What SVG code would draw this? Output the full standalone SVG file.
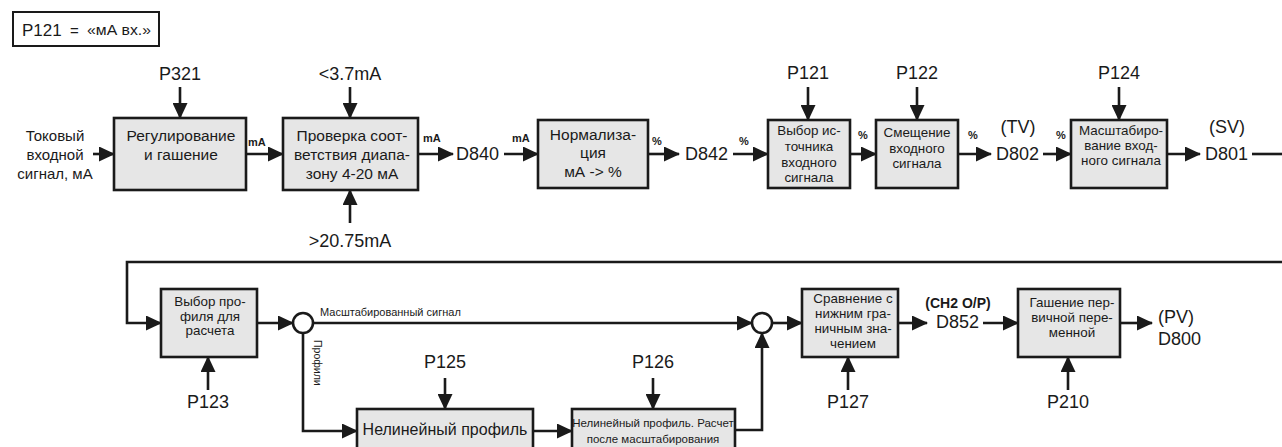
<svg xmlns="http://www.w3.org/2000/svg" width="1282" height="447" viewBox="0 0 1282 447">
<style>
text{font-family:"Liberation Sans",Arial,sans-serif;fill:#1a1a1a}
.box{fill:#e6e6e6;stroke:#1a1a1a;stroke-width:2.6}
.hdr{fill:#fff;stroke:#1a1a1a;stroke-width:2}
.ln{fill:none;stroke:#1a1a1a;stroke-width:2.6}
.arr{marker-end:url(#ah)}
.cir{fill:#fff;stroke:#1a1a1a;stroke-width:2.6}
.big{font-size:18px}
.t15{font-size:15.5px;text-anchor:middle}
.t13{font-size:13.4px;text-anchor:middle}
.lab{font-size:11px;font-weight:bold}
.c{text-anchor:middle}
</style>
<defs>
<marker id="ah" markerUnits="userSpaceOnUse" markerWidth="16" markerHeight="15" refX="15" refY="7.5" orient="auto">
<path d="M0,0 L16,7.5 L0,15 Z" fill="#1a1a1a"/>
</marker>
</defs>

<g id="header">
<rect class="hdr" x="13" y="12" width="146" height="34"/>
<text x="22" y="36" font-size="17">P121</text>
<text x="70" y="36" font-size="15">=</text>
<text x="87" y="35" font-size="14" textLength="64" lengthAdjust="spacingAndGlyphs">«мА вх.»</text>
</g>

<g id="connectors">
<line class="ln arr" x1="93" y1="154" x2="114" y2="154"/>
<line class="ln arr" x1="180" y1="87" x2="180" y2="118"/>
<line class="ln arr" x1="246" y1="154" x2="283" y2="154"/>
<line class="ln arr" x1="350" y1="87" x2="350" y2="118"/>
<line class="ln arr" x1="350" y1="223" x2="350" y2="190"/>
<line class="ln arr" x1="418" y1="154" x2="453" y2="154"/>
<line class="ln arr" x1="504" y1="154" x2="538" y2="154"/>
<line class="ln arr" x1="648" y1="154" x2="679" y2="154"/>
<line class="ln arr" x1="733" y1="154" x2="768" y2="154"/>
<line class="ln arr" x1="808" y1="87" x2="808" y2="120"/>
<line class="ln arr" x1="850" y1="154" x2="876" y2="154"/>
<line class="ln arr" x1="917" y1="87" x2="917" y2="120"/>
<line class="ln arr" x1="958" y1="154" x2="991" y2="154"/>
<line class="ln arr" x1="1043" y1="154" x2="1071" y2="154"/>
<line class="ln arr" x1="1119" y1="87" x2="1119" y2="120"/>
<line class="ln arr" x1="1167" y1="154" x2="1200" y2="154"/>
<line class="ln" x1="1252" y1="154" x2="1282" y2="154"/>
<polyline class="ln arr" points="1282,262 127,262 127,323 161,323"/>
<line class="ln arr" x1="208" y1="390" x2="208" y2="357"/>
<line class="ln arr" x1="257" y1="323" x2="293" y2="323"/>
<line class="ln arr" x1="313" y1="323" x2="752" y2="323"/>
<polyline class="ln arr" points="303,333 303,431 357,431"/>
<line class="ln arr" x1="445" y1="378" x2="445" y2="409"/>
<line class="ln arr" x1="533" y1="431" x2="572" y2="431"/>
<line class="ln arr" x1="653" y1="378" x2="653" y2="409"/>
<polyline class="ln arr" points="735,430 762,430 762,333"/>
<line class="ln arr" x1="772" y1="323" x2="802" y2="323"/>
<line class="ln arr" x1="848" y1="390" x2="848" y2="357"/>
<line class="ln arr" x1="898" y1="323" x2="927" y2="323"/>
<line class="ln arr" x1="983" y1="323" x2="1018" y2="323"/>
<line class="ln arr" x1="1068" y1="390" x2="1068" y2="357"/>
<line class="ln arr" x1="1120" y1="323" x2="1152" y2="323"/>
<circle class="cir" cx="303" cy="323" r="10"/>
<circle class="cir" cx="762" cy="323" r="10"/>
</g>

<g id="labels">
<text class="c" x="55" y="141" font-size="15">Токовый</text>
<text class="c" x="55" y="160" font-size="15">входной</text>
<text class="c" x="55" y="179" font-size="15">сигнал, мА</text>
<text class="big c" x="180" y="80">P321</text>
<text class="big c" x="350" y="80">&lt;3.7mA</text>
<text class="big c" x="350" y="247">&gt;20.75mA</text>
<text class="lab" x="248" y="146">mA</text>
<text class="lab" x="423" y="142">mA</text>
<text class="big" x="456" y="160">D840</text>
<text class="lab" x="512" y="142">mA</text>
<text class="lab" x="652" y="145">%</text>
<text class="big" x="685" y="160">D842</text>
<text class="lab" x="739" y="145">%</text>
<text class="big c" x="808" y="79">P121</text>
<text class="lab" x="858" y="139">%</text>
<text class="big c" x="917" y="79">P122</text>
<text class="lab" x="968" y="139">%</text>
<text class="big c" x="1018" y="133">(TV)</text>
<text class="big" x="996" y="160">D802</text>
<text class="lab" x="1056" y="139">%</text>
<text class="big c" x="1119" y="79">P124</text>
<text class="big c" x="1227" y="133">(SV)</text>
<text class="big" x="1205" y="160">D801</text>
<text class="big c" x="208" y="408">P123</text>
<text x="320" y="316" font-size="11">Масштабированный сигнал</text>
<text transform="translate(314,340) rotate(90)" font-size="10.5">Профили</text>
<text class="big c" x="445" y="368">P125</text>
<text class="big c" x="653" y="368">P126</text>
<text class="big c" x="848" y="408">P127</text>
<text class="c" x="958" y="308" font-size="14" font-weight="bold">(CH2 O/P)</text>
<text class="big" x="936" y="328">D852</text>
<text class="big c" x="1068" y="408">P210</text>
<text class="big" x="1158" y="323">(PV)</text>
<text class="big" x="1158" y="345">D800</text>
</g>

<g id="n-regul">
<rect class="box" x="114" y="118" width="132" height="72"/>
<text class="t15" x="181" y="141">Регулирование</text>
<text class="t15" x="181" y="160">и гашение</text>
</g>
<g id="n-check">
<rect class="box" x="283" y="118" width="135" height="72"/>
<text class="t15" x="352" y="141">Проверка соот-</text>
<text class="t15" x="352" y="160">ветствия диапа-</text>
<text class="t15" x="352" y="179">зону 4-20 мА</text>
</g>
<g id="n-norm">
<rect class="box" x="538" y="120" width="110" height="68"/>
<text class="t15" x="593" y="140">Нормализа-</text>
<text class="t15" x="593" y="158">ция</text>
<text class="t15" x="593" y="177">мА -&gt; %</text>
</g>
<g id="n-source">
<rect class="box" x="768" y="120" width="82" height="68"/>
<text class="t13" x="809" y="135">Выбор ис-</text>
<text class="t13" x="809" y="151">точника</text>
<text class="t13" x="809" y="167">входного</text>
<text class="t13" x="809" y="182">сигнала</text>
</g>
<g id="n-offset">
<rect class="box" x="876" y="120" width="82" height="68"/>
<text class="t13" x="917" y="137">Смещение</text>
<text class="t13" x="917" y="153">входного</text>
<text class="t13" x="917" y="168">сигнала</text>
</g>
<g id="n-scale">
<rect class="box" x="1071" y="120" width="96" height="68"/>
<text class="t13" x="1121" y="135">Масштабиро-</text>
<text class="t13" x="1121" y="150">вание вход-</text>
<text class="t13" x="1121" y="165">ного сигнала</text>
</g>
<g id="n-profile">
<rect class="box" x="161" y="289" width="96" height="68"/>
<text class="t13" x="210" y="306">Выбор про-</text>
<text class="t13" x="210" y="321">филя для</text>
<text class="t13" x="210" y="335">расчета</text>
</g>
<g id="n-nonlin">
<rect class="box" x="357" y="409" width="176" height="60"/>
<text class="c" x="445" y="435" font-size="16">Нелинейный профиль</text>
</g>
<g id="n-nonlin2">
<rect class="box" x="572" y="409" width="163" height="60"/>
<text class="c" x="653" y="427" font-size="11.5">Нелинейный профиль. Расчет</text>
<text class="c" x="653" y="443" font-size="11.5">после масштабирования</text>
</g>
<g id="n-compare">
<rect class="box" x="802" y="289" width="96" height="68"/>
<text class="t13" x="853" y="303">Сравнение с</text>
<text class="t13" x="853" y="318">нижним гра-</text>
<text class="t13" x="853" y="333">ничным зна-</text>
<text class="t13" x="853" y="348">чением</text>
</g>
<g id="n-damp">
<rect class="box" x="1018" y="289" width="102" height="68"/>
<text class="t13" x="1072" y="307">Гашение пер-</text>
<text class="t13" x="1072" y="322">вичной пере-</text>
<text class="t13" x="1072" y="337">менной</text>
</g>
</svg>
